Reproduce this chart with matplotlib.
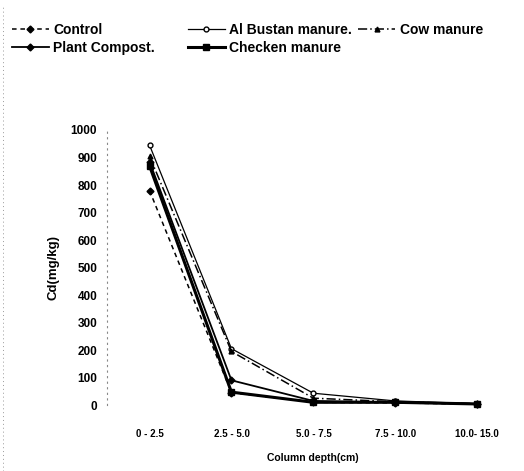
import matplotlib
matplotlib.use('Agg')
import matplotlib.pyplot as plt

# Cd concentration by column depth
depths = ["0 - 2.5", "2.5 - 5.0", "5.0 - 7.5", "7.5 - 10.0", "10.0- 15.0"]
control = [780, 45, 10, 8, 3]
al_bustan = [945, 205, 43, 15, 5]
cow = [905, 195, 25, 12, 5]
plant_compost = [885, 90, 15, 10, 4]
checken = [870, 47, 10, 10, 4]

plt.rcParams['font.family'] = ['Liberation Sans', 'DejaVu Sans']
plt.rcParams['font.weight'] = 'bold'
plt.rcParams['axes.labelweight'] = 'bold'

fig = plt.figure(figsize=(5.24, 4.71), dpi=100)
ax = fig.add_axes([0.204, 0.140, 0.785, 0.584])

x = list(range(len(depths)))
kw = dict(color='black', clip_on=False)
h_ctrl, = ax.plot(x, control, ls=(0, (3, 2.5)), lw=1.1, marker='D', ms=3.5,
                  label='Control', **kw)
h_alb, = ax.plot(x, al_bustan, ls='-', lw=0.9, marker='o', ms=3.5,
                 mfc='white', label='Al Bustan manure.', **kw)
h_cow, = ax.plot(x, cow, ls=(0, (6, 2, 1, 2)), lw=1.1, marker='^', ms=3.5,
                 label='Cow manure', **kw)
h_pc, = ax.plot(x, plant_compost, ls='-', lw=1.3, marker='D', ms=3.5,
                label='Plant Compost.', **kw)
h_chk, = ax.plot(x, checken, ls='-', lw=2.2, marker='s', ms=5,
                 label='Checken manure', **kw)

ax.set_xlim(-0.52, 4.5)
ax.set_ylim(0, 1000)
ax.set_xticks(x)
ax.set_xticklabels(depths, fontsize=7)
ax.set_yticks(range(0, 1001, 100))
ax.tick_params(axis='y', length=0, pad=7, labelsize=8.5)
ax.tick_params(axis='x', length=0, pad=17)
for s in ['top', 'right', 'bottom']:
    ax.spines[s].set_visible(False)
ax.spines['left'].set_linestyle((0, (1, 4)))
ax.spines['left'].set_color('#888888')
ax.spines['left'].set_linewidth(0.8)
ax.set_ylabel('Cd(mg/kg)', fontsize=9.5, labelpad=8)
ax.set_xlabel('Column depth(cm)', fontsize=7.5, labelpad=10)

# legend in three loose columns across the top
lkw = dict(loc='upper left', frameon=False, fontsize=10, handlelength=2.7,
           handletextpad=0.3, labelspacing=0.3, borderaxespad=0,
           borderpad=0)
fig.legend([h_ctrl, h_pc], ['Control', 'Plant Compost.'],
           bbox_to_anchor=(0.022, 0.952), **lkw)
fig.legend([h_alb, h_chk], ['Al Bustan manure.', 'Checken manure'],
           bbox_to_anchor=(0.358, 0.952), **lkw)
fig.legend([h_cow], ['Cow manure'],
           bbox_to_anchor=(0.683, 0.952), **lkw)

# faint scan edge on the left
fig.add_artist(plt.Line2D([0.006, 0.006], [0.0, 0.99], color='#999999',
                          ls=(0, (1, 3)), lw=0.7))

fig.savefig('out.png', dpi=100)
